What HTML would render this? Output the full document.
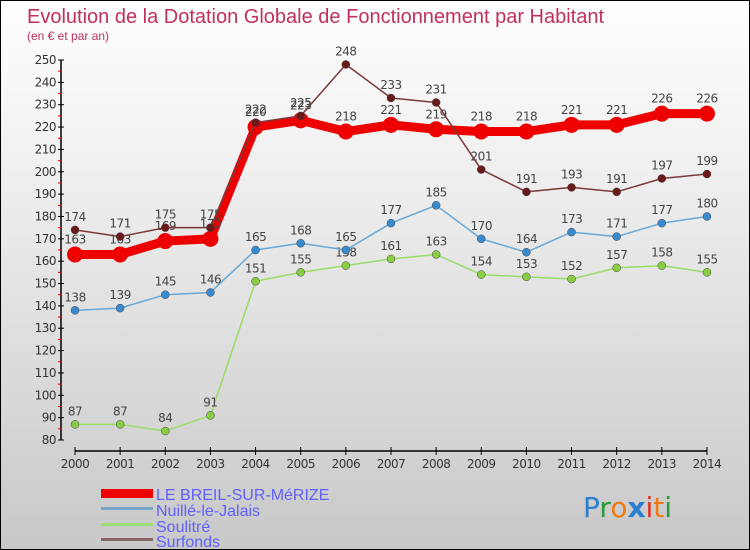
<!DOCTYPE html>
<html><head><meta charset="utf-8"><style>
body{margin:0}
#c{width:748px;height:548px;border:1px solid #000;background:linear-gradient(#fff,#f0f0f0 30%,#c8c8c8);position:relative;overflow:hidden;font-family:"DejaVu Sans","Liberation Sans",sans-serif}
svg text{font-family:"DejaVu Sans","Liberation Sans",sans-serif}
</style></head><body>
<div id="c">
<svg id="s" width="748" height="548">
<text x="26" y="22" font-size="20" fill="#c0305a" style="font-family:'Liberation Sans',sans-serif">Evolution de la Dotation Globale de Fonctionnement par Habitant</text>
<text x="26" y="39" font-size="12" fill="#c0305a" style="font-family:'Liberation Sans',sans-serif">(en € et par an)</text>
<g style="font-family:'Liberation Sans',sans-serif">
<rect x="100" y="488" width="52" height="9" fill="#e00"/>
<text x="155" y="499" font-size="16" fill="#6060ff" style="font-family:'Liberation Sans',sans-serif">LE BREIL-SUR-MéRIZE</text>
<rect x="100" y="506" width="52" height="3" fill="#7aa8cc"/>
<text x="155" y="515" font-size="16" fill="#6060ff" style="font-family:'Liberation Sans',sans-serif">Nuillé-le-Jalais</text>
<rect x="100" y="522" width="52" height="3" fill="#99dd77"/>
<text x="155" y="531" font-size="16" fill="#6060ff" style="font-family:'Liberation Sans',sans-serif">Soulitré</text>
<rect x="100" y="537" width="52" height="3" fill="#886666"/>
<text x="155" y="546" font-size="16" fill="#6060ff" style="font-family:'Liberation Sans',sans-serif">Surfonds</text>
</g>
<g font-size="28">
<text x="582" y="516"><tspan fill="#2a7fd0">P</tspan><tspan fill="#2a9a3a">r</tspan><tspan fill="#f07b10">o</tspan><tspan fill="#2a7fd0" font-weight="bold">x</tspan><tspan fill="#e03020">i</tspan><tspan fill="#f07b10">t</tspan><tspan fill="#2a9a3a">i</tspan></text>
</g>
</svg></div>
<script>
const years=[2000,2001,2002,2003,2004,2005,2006,2007,2008,2009,2010,2011,2012,2013,2014];
const breil=[163,163,169,170,220,223,218,221,219,218,218,221,221,226,226];
const nuille=[138,139,145,146,165,168,165,177,185,170,164,173,171,177,180];
const soulitre=[87,87,84,91,151,155,158,161,163,154,153,152,157,158,155];
const surfonds=[174,171,175,175,222,225,248,233,231,201,191,193,191,197,199];
const yTicks=[80,90,100,110,120,130,140,150,160,170,180,190,200,210,220,230,240,250];
const NS='http://www.w3.org/2000/svg';
const s=document.getElementById('s');
const X=i=>74+i*45.14;
const Y=v=>439-(v-80)*(380/170);
function el(t,a,p){const e=document.createElementNS(NS,t);for(const k in a)e.setAttribute(k,a[k]);(p||s).appendChild(e);return e;}
const ax=el('g',{});


const ya=el('line',{x1:60,x2:60,y1:Y(250),y2:Y(80),stroke:'#000','stroke-width':1.5},ax);


yTicks.forEach(v=>{
 el('line',{x1:57,x2:63,y1:Y(v),y2:Y(v),stroke:'#000'},ax);
 if(v<250)el('line',{x1:57,x2:61,y1:Y(v+5),y2:Y(v+5),stroke:'#e00'},ax);
 const t=el('text',{x:55,y:Y(v)+4,'font-size':12,fill:'#333','text-anchor':'end','letter-spacing':'-0.5'},ax);
 t.textContent=v;
 
 
});
const xa=el('line',{x1:X(0),x2:X(14),y1:450,y2:450,stroke:'#000','stroke-width':1.5},ax);


years.forEach((yr,i)=>{
 el('line',{x1:X(i),x2:X(i),y1:446,y2:454,stroke:'#000'},ax);
 const t=el('text',{x:X(i),y:467,'font-size':12,fill:'#333','text-anchor':'middle','letter-spacing':'-0.5'},ax);
 t.textContent=yr;
 
 
});
function series(d,name,col,dot,w,r){
 const g=el('g',{});
 
 
 const pl=el('polyline',{points:d.map((v,i)=>X(i)+','+Y(v)).join(' '),fill:'none',stroke:col,'stroke-width':w,'stroke-linejoin':'round'},g);
 
 
 d.forEach((v,i)=>{
  const c=el('circle',{cx:X(i),cy:Y(v),r:r,fill:dot,stroke:col==='#e00'?'none':'#444','stroke-width':0.5},g);
  
  
  const t=el('text',{x:X(i),y:Y(v)-9-(r>5?2:0),'font-size':12,fill:'#444','text-anchor':'middle','letter-spacing':'-0.5'},g);
  t.textContent=v;
  
  
 });
}
series(soulitre,'soulitre','#99dd66','#88cc44',1.5,4);
series(nuille,'nuille','#66a8d8','#3a8ad0',1.5,4);
series(breil,'breil','#e00','#e00',9,8);
series(surfonds,'surfonds','#7a3a3a','#6a1a1a',1.5,4);
</script>
</body></html>
